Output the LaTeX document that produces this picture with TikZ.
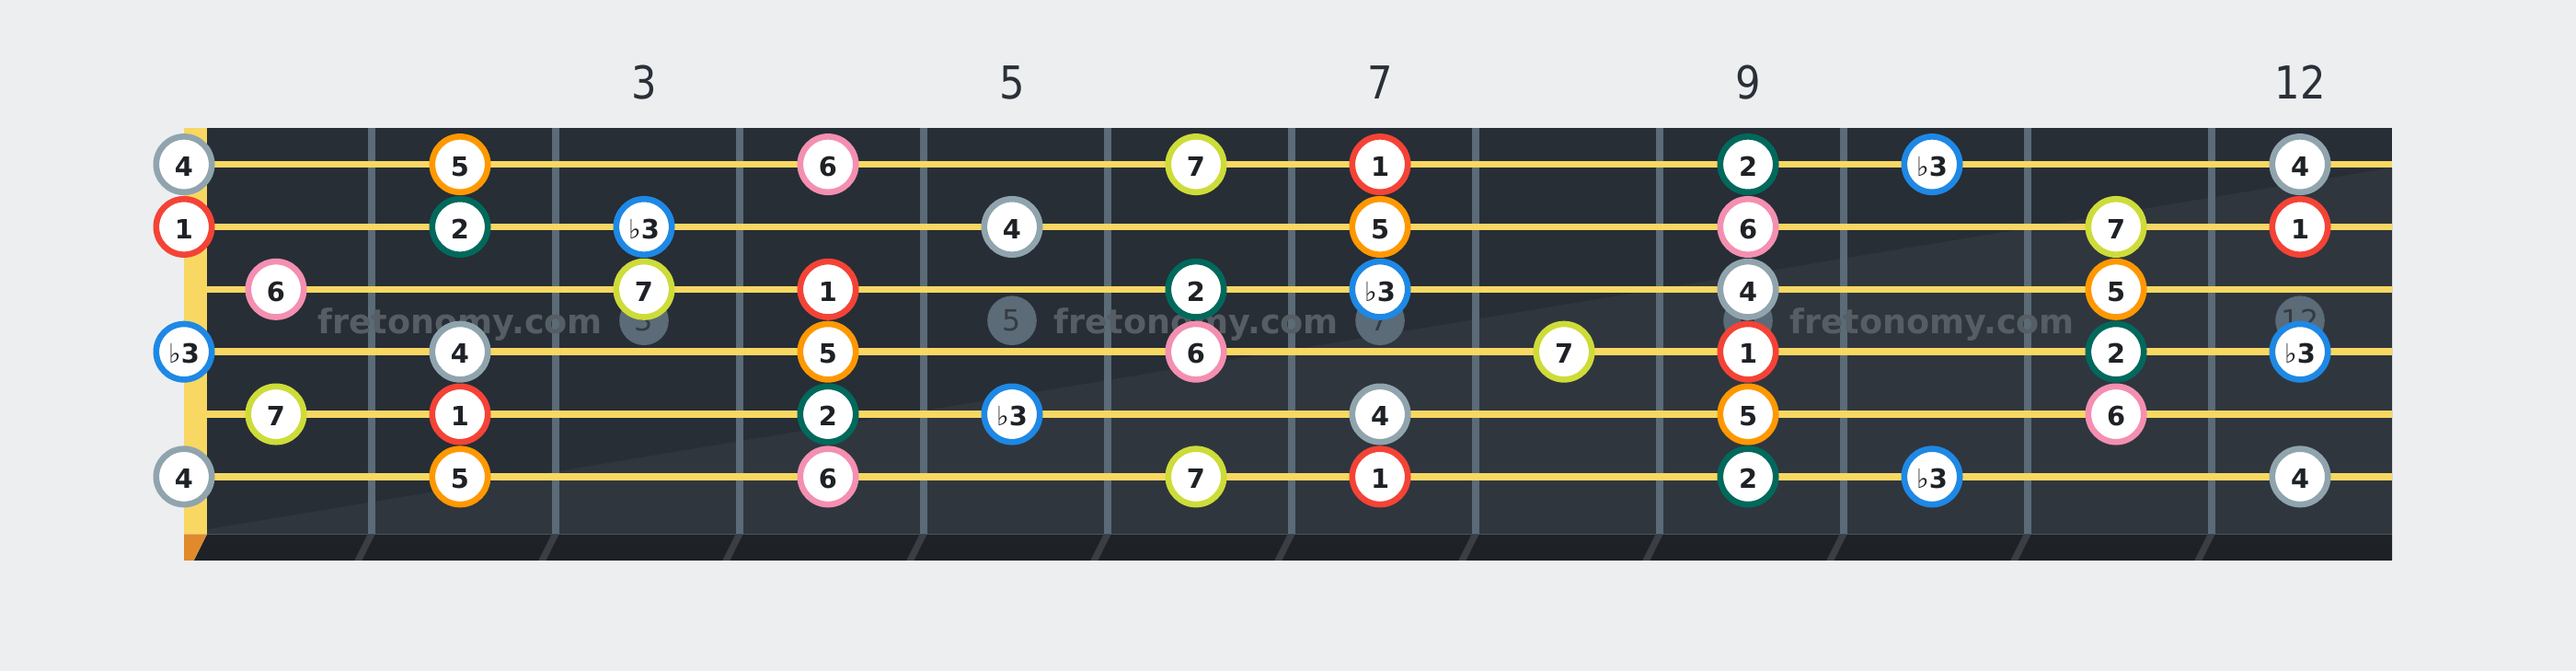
\documentclass[tikz,border=0pt]{standalone}
\usepackage{fontspec}
\setmainfont{DejaVu Sans}
\newfontfamily\fretfont[FakeStretch=0.88]{DejaVu Sans}

\definecolor{bgcol}{HTML}{EDEEF0}
\definecolor{boardcol}{HTML}{272E36}
\definecolor{boardlite}{HTML}{30363E}
\definecolor{stripcol}{HTML}{1E2227}
\definecolor{fretcol}{HTML}{5B6B78}
\definecolor{fretshade}{HTML}{3A3F45}
\definecolor{stringcol}{HTML}{F8D862}
\definecolor{nutshade}{HTML}{E08A2C}
\definecolor{labelcol}{HTML}{2A3038}
\definecolor{marktext}{HTML}{353B42}
\definecolor{wmcol}{HTML}{575D64}
\definecolor{notetext}{HTML}{1E2226}
\definecolor{dgone}{HTML}{F44336}
\definecolor{dgtwo}{HTML}{00695C}
\definecolor{dgthree}{HTML}{1E88E5}
\definecolor{dgfour}{HTML}{90A4AE}
\definecolor{dgfive}{HTML}{FF9800}
\definecolor{dgsix}{HTML}{F48FB1}
\definecolor{dgseven}{HTML}{CDDC39}

\newcommand{\flatsym}{{\mdseries\char"266D}}

\tikzset{
  note/.style={circle, fill=white, line width=0.66mm, minimum size=6.04mm, inner sep=0pt,
    font=\fontsize{8.2}{10}\selectfont\bfseries, text=notetext, text height=0.73em, text depth=0pt},
  marker/.style={circle, fill=fretcol, minimum size=5.36mm, inner sep=0pt,
    font=\fontsize{9}{10}\selectfont, text=marktext},
  fretlabel/.style={font=\fretfont\fontsize{14}{16}\selectfont, text=labelcol, anchor=base},
  watermark/.style={font=\fontsize{10.4}{12}\selectfont\bfseries, text=wmcol, anchor=base}
}

\begin{document}
\begin{tikzpicture}[x=0.17857mm, y=-0.17857mm]
\fill[bgcol] (0,0) rectangle (1568,408);
\useasboundingbox (0,0) rectangle (1568,408);
% board
\fill[boardcol] (126,78) rectangle (1456,325);
\fill[boardlite] (126,322) -- (1456,102) -- (1456,325) -- (126,325) -- cycle;
\fill[stripcol] (126,325) -- (1456,325) -- (1456,341) -- (118,341) -- cycle;
\fill[stringcol] (112,78) rectangle (126,325);
\fill[nutshade] (112,325) -- (126,325) -- (118,341) -- (112,341) -- cycle;
% frets
\foreach \n in {1,...,11} {
\draw[fretcol, line width=0.8mm] (112*\n+114,78) -- (112*\n+114,325);
\fill[fretshade] (112*\n+111.75,325) -- (112*\n+116.25,325) -- (112*\n+108.25,341) -- (112*\n+103.75,341) -- cycle;
}
% strings
\foreach \s in {1,...,6} {
\draw[stringcol, line width=0.75mm] (126,62+38*\s) -- (1456,62+38*\s);
}
% inlays and fret numbers
\foreach \n in {3,5,7,9,12} {
\node[marker] (m\n) at (56+112*\n,195) {\n};
\node[fretlabel] (f\n) at (56+112*\n,60) {\n};
}
\foreach \x [count=\i] in {280,728,1176} {
\node[watermark] (w\i) at (\x,203) {fretonomy.com};
}
% scale degrees
\foreach \s/\f/\d/\c in {%
1/0/4/dgfour, 1/2/5/dgfive, 1/4/6/dgsix, 1/6/7/dgseven, 1/7/1/dgone, 1/9/2/dgtwo, 1/10/\flatsym3/dgthree, 1/12/4/dgfour,
2/0/1/dgone, 2/2/2/dgtwo, 2/3/\flatsym3/dgthree, 2/5/4/dgfour, 2/7/5/dgfive, 2/9/6/dgsix, 2/11/7/dgseven, 2/12/1/dgone,
3/1/6/dgsix, 3/3/7/dgseven, 3/4/1/dgone, 3/6/2/dgtwo, 3/7/\flatsym3/dgthree, 3/9/4/dgfour, 3/11/5/dgfive,
4/0/\flatsym3/dgthree, 4/2/4/dgfour, 4/4/5/dgfive, 4/6/6/dgsix, 4/8/7/dgseven, 4/9/1/dgone, 4/11/2/dgtwo, 4/12/\flatsym3/dgthree,
5/1/7/dgseven, 5/2/1/dgone, 5/4/2/dgtwo, 5/5/\flatsym3/dgthree, 5/7/4/dgfour, 5/9/5/dgfive, 5/11/6/dgsix,
6/0/4/dgfour, 6/2/5/dgfive, 6/4/6/dgsix, 6/6/7/dgseven, 6/7/1/dgone, 6/9/2/dgtwo, 6/10/\flatsym3/dgthree, 6/12/4/dgfour} {
\pgfmathsetmacro\nx{\f==0 ? 112 : 56+112*\f}
\node[note, draw=\c] (n\s-\f) at (\nx,62+38*\s) {\d};
}
\end{tikzpicture}
\end{document}
